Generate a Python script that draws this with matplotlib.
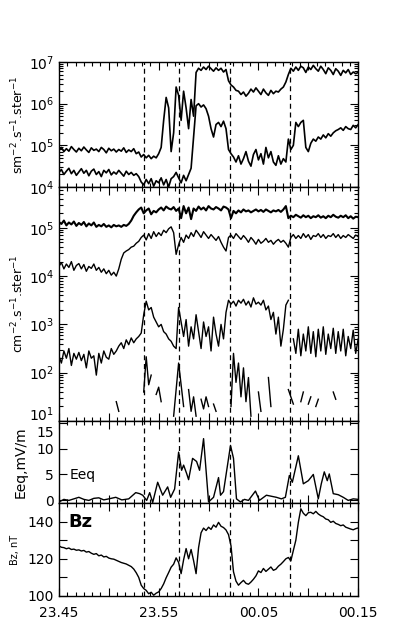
import numpy as np
import matplotlib.pyplot as plt
import matplotlib.transforms as mtransforms
from matplotlib.ticker import MultipleLocator, FixedLocator, FixedFormatter, LogLocator

nan = np.nan

# time grid in minutes after 23:45 (0.25 min steps)
t = np.arange(121) * 0.25

# top panel, log10 of flux
flux_a = [4.88, 4.95, 4.85, 4.92, 4.86, 4.97, 4.90, 4.84,
          4.93, 4.87, 4.96, 4.89, 4.83, 4.94, 4.88, 4.91,
          4.85, 4.95, 4.90, 4.82, 4.93, 4.87, 4.91, 4.84,
          4.90, 4.86, 4.94, 4.83, 4.89, 4.85, 4.92, 4.80,
          4.84, 4.72, 4.78, 4.70, 4.76, 4.68, 4.74, 4.70,
          4.80, 4.95, 5.60, 6.15, 5.90, 4.85, 5.30, 6.40,
          6.20, 5.60, 6.30, 5.90, 5.40, 6.10, 5.70, 6.75,
          6.85, 6.80, 6.88, 6.82, 6.90, 6.84, 6.78, 6.86,
          6.80, 6.85, 6.76, 6.82, 6.55, 6.45, 6.40, 6.32,
          6.30, 6.22, 6.28, 6.18, 6.25, 6.35, 6.28, 6.38,
          6.30, 6.22, 6.35, 6.26, 6.20, 6.32, 6.24, 6.30,
          6.28, 6.35, 6.40, 6.52, 6.70, 6.85, 6.78, 6.88,
          6.80, 6.90, 6.86, 6.75, 6.88, 6.82, 6.92, 6.84,
          6.78, 6.90, 6.82, 6.72, 6.86, 6.80, 6.70, 6.84,
          6.78, 6.68, 6.80, 6.74, 6.82, 6.70, 6.76, 6.72,
          6.75]
flux_b = [4.35, 4.42, 4.30, 4.38, 4.45, 4.32, 4.40, 4.28,
          4.36, 4.44, 4.33, 4.40, 4.27, 4.38, 4.43, 4.30,
          4.37, 4.25, 4.40, 4.34, 4.42, 4.29, 4.36, 4.31,
          4.40, 4.33, 4.26, 4.38, 4.30, 4.35, 4.28, 4.32,
          4.25, 4.12, 4.05, 4.18, 4.08, 4.20, 4.02, 4.15,
          4.10, 4.22, 4.05, 4.18, 4.00, 4.20, 4.25, 4.35,
          4.22, 4.10, 4.28, 4.15, 4.30, 4.45, 5.20, 5.95,
          6.00, 5.92, 5.97, 5.88, 5.70, 5.40, 5.20, 5.50,
          5.55, 5.45, 5.58, 5.40, 4.90, 4.80, 4.72, 4.60,
          4.75, 4.55, 4.68, 4.85, 4.62, 4.50, 4.78, 4.90,
          4.65, 4.80, 4.55, 4.95, 4.70, 4.85, 4.60, 4.52,
          4.75, 4.55, 4.68, 4.60, 5.15, 4.90, 5.00, 5.55,
          5.45, 5.55, 5.60, 4.95, 4.85, 5.05, 5.15, 5.10,
          5.20, 5.15, 5.25, 5.18, 5.28, 5.22, 5.30, 5.35,
          5.38, 5.42, 5.36, 5.45, 5.40, 5.38, 5.48, 5.42,
          5.50]

# second panel, log10 of flux (four channels)
flux_c = [5.12, 5.08, 5.15, 5.05, 5.11, 5.07, 5.13, 5.04,
          5.10, 5.06, 5.12, 5.03, 5.09, 5.05, 5.11, 5.02,
          5.06, 5.03, 5.08, 5.02, 5.05, 5.01, 5.06, 5.03,
          5.05, 5.02, 5.06, 5.04, 5.08, 5.15, 5.25, 5.32,
          5.38, 5.42, 5.30, 5.36, 5.40, 5.28, 5.35, 5.32,
          5.38, 5.42, 5.36, 5.44, 5.40, 5.38, 5.43, 5.35,
          5.40, 5.20, 5.45, 5.30, 5.42, 5.18, 5.40, 5.35,
          5.44, 5.38, 5.42, 5.36, 5.45, 5.40, 5.38, 5.43,
          5.40, 5.36, 5.44, 5.42, 5.38, 5.20, 5.35, 5.30,
          5.36, 5.32, 5.38, 5.34, 5.36, 5.32, 5.35, 5.38,
          5.34, 5.37, 5.33, 5.38, 5.35, 5.32, 5.36, 5.34,
          5.37, 5.33, 5.38, 5.45, 5.20, 5.25, 5.22, 5.27,
          5.24, 5.21, 5.26, 5.22, 5.25, 5.20, 5.24, 5.22,
          5.26, 5.21, 5.24, 5.20, 5.25, 5.22, 5.27, 5.23,
          5.21, 5.25, 5.22, 5.26, 5.20, 5.24, 5.19, 5.23,
          5.22]
flux_d = [4.20, 4.28, 4.15, 4.25, 4.18, 4.30, 4.12, 4.22,
          4.26, 4.15, 4.24, 4.10, 4.20, 4.16, 4.25, 4.12,
          4.18, 4.08, 4.15, 4.05, 4.12, 4.02, 4.08, 4.00,
          4.15, 4.35, 4.48, 4.52, 4.55, 4.60, 4.62, 4.68,
          4.72, 4.80, 4.85, 4.75, 4.88, 4.78, 4.92, 4.82,
          4.90, 4.84, 4.95, 4.90, 4.98, 5.02, 4.90, 4.45,
          4.65, 4.80, 4.70, 4.85, 4.78, 4.90, 4.82, 4.95,
          4.88, 4.80, 4.92, 4.85, 4.78, 4.86, 4.80, 4.74,
          4.82, 4.70, 4.60, 4.52, 4.80, 4.85, 4.78, 4.88,
          4.82, 4.76, 4.84, 4.78, 4.70, 4.80, 4.74, 4.66,
          4.76, 4.68, 4.72, 4.78, 4.70, 4.74, 4.66, 4.72,
          4.76, 4.70, 4.74, 4.68, 4.60, 4.80, 4.86, 4.78,
          4.84, 4.78, 4.88, 4.80, 4.86, 4.76, 4.84, 4.82,
          4.88, 4.80, 4.86, 4.78, 4.84, 4.82, 4.88, 4.80,
          4.86, 4.78, 4.84, 4.80, 4.86, 4.82, 4.78, 4.85,
          4.82]
flux_e = [2.35, 2.20, 2.45, 2.30, 2.50, 2.15, 2.40, 2.28,
          2.42, 2.25, 2.38, 2.10, 2.45, 2.30, 2.35, 1.95,
          2.40, 2.20, 2.45, 2.32, 2.28, 2.50, 2.38, 2.45,
          2.55, 2.62, 2.50, 2.68, 2.58, 2.72, 2.62, 2.70,
          2.75, 2.82, 3.20, 3.48, 3.30, 3.35, 3.15, 3.05,
          2.95, 3.00, 2.85, 2.80, 2.70, 2.65, 2.55, 2.50,
          3.35, 3.05, 2.75, 3.10, 2.55, 2.95, 2.70, 3.20,
          2.85, 2.50, 3.05, 2.75, 2.95, 2.45, 3.15, 2.80,
          2.55, 3.00, 2.70, 3.25, 3.50, 3.42, 3.48, 3.38,
          3.50, 3.44, 3.52, 3.40, 3.48, 3.36, 3.55, 3.42,
          3.46, 3.40, 3.50, 3.30, 3.38, 3.10, 3.25, 2.80,
          3.15, 2.55, 2.90, 3.40, 3.50, nan, 2.70, 2.40,
          2.90, 2.35, 2.80, 2.45, 2.95, 2.40, 2.85, 2.33,
          2.90, 2.45, 2.95, 2.38, 2.80, 2.50, 2.92, 2.40,
          2.85, 2.45, 2.90, 2.35, 2.75, 2.50, 2.88, 2.40,
          2.70]
flux_f = [nan, nan, nan, nan, nan, nan, nan, nan,
          nan, nan, nan, nan, nan, nan, nan, nan,
          nan, nan, nan, nan, nan, nan, nan, 1.40,
          1.20, nan, 1.25, nan, nan, nan, nan, nan,
          nan, nan, 1.60, 2.33, 1.75, 1.95, nan, 1.55,
          1.70, 1.40, nan, nan, nan, nan, 1.10, 1.65,
          2.20, 1.75, 1.30, nan, 1.65, 1.20, 1.50, 1.10,
          nan, 1.45, 1.25, 1.50, 1.30, nan, 1.35, 1.20,
          nan, nan, nan, nan, nan, 1.30, 2.40, 1.80,
          2.20, 1.50, 2.10, 1.40, 1.90, 1.10, nan, nan,
          1.60, 1.20, nan, nan, 1.90, 1.30, nan, nan,
          1.20, nan, nan, nan, 1.65, 1.50, 1.35, nan,
          nan, 1.40, 1.60, nan, 1.35, 1.50, nan, 1.30,
          1.45, nan, nan, nan, nan, nan, 1.60, 1.45,
          nan, nan, nan, nan, nan, nan, nan, nan,
          nan]

# electric field
eeq_t = [0.0, 0.5, 1.0, 1.5, 2.0, 2.5, 3.0, 3.5, 4.0, 4.5, 5.0, 5.7, 6.3, 7.0,
         7.7, 8.1, 8.4, 8.8, 9.1, 9.4, 9.9, 10.4, 10.9, 11.2, 11.6, 12.0, 12.3,
         12.5, 12.8, 13.0, 13.4, 13.8, 14.1, 14.5, 15.0, 15.5, 16.0, 16.2, 16.5,
         17.2, 17.5, 17.8, 18.2, 18.6, 19.0, 19.7, 20.1, 20.8, 21.3, 21.8, 22.3,
         22.7, 23.1, 23.4, 24.0, 24.5, 25.0, 25.5, 26.0, 26.3, 26.6, 26.9, 27.1,
         27.5, 28.0, 28.5, 29.0, 29.5, 30.0]
eeq = [-0.3, 0.2, 0.0, 0.3, 0.6, 0.2, 0.0, 0.4, 0.5, 0.1, 0.3, 0.6, 0.1, 0.3,
       1.5, 1.3, 1.0, 0.0, 1.5, -0.4, 3.5, 1.0, 2.6, 0.6, 2.2, 9.3, 5.8,
       6.8, 5.2, 4.0, 8.1, 7.5, 5.8, 11.9, -0.3, 0.6, 4.4, 1.0, 1.7,
       10.6, 8.1, 0.3, -0.3, 0.2, 0.0, 1.8, 0.0, 1.0, 0.8, 0.6, 0.3,
       0.6, 4.8, 3.5, 8.6, 3.2, 3.8, 5.0, 0.3, 3.2, 5.5, 3.8, 5.1,
       1.3, 1.1, 0.6, 0.0, 0.3, 0.2]

# magnetic field Bz, nT
bz = [127.0, 126.2, 126.0, 125.4, 125.8, 125.0, 125.2, 124.6,
      124.8, 124.2, 124.5, 123.6, 123.9, 123.0, 122.4, 122.8,
      121.6, 122.0, 121.0, 121.3, 120.4, 120.0, 119.8, 119.2,
      118.6, 118.0, 117.6, 117.2, 116.5, 115.8, 114.5, 112.5,
      110.0, 105.8, 104.0, 103.0, 101.2, 102.0, 100.4, 101.5,
      102.2, 104.0, 106.5, 109.8, 112.6, 115.5, 117.1, 120.5,
      118.0, 112.0, 119.5, 125.5, 120.0, 125.0, 119.0, 112.0,
      126.0, 134.0, 136.5, 135.2, 137.0, 135.8, 138.2, 137.0,
      139.6, 137.5, 136.8, 135.5, 133.0, 127.0, 113.0, 108.0,
      105.8, 107.2, 108.4, 106.8, 106.3, 107.5, 109.0, 110.8,
      113.5, 112.6, 114.8, 113.2, 114.4, 115.6, 113.8, 114.4,
      116.0, 117.1, 118.5, 120.0, 120.7, 118.9, 124.5, 130.0,
      139.6, 146.9, 144.5, 143.2, 144.8, 145.0, 144.2, 145.5,
      144.1, 143.2, 142.6, 141.4, 141.0, 139.6, 140.2, 139.0,
      138.5, 137.8, 138.2, 137.0, 136.5, 136.0, 135.6, 136.2,
      136.6]

event_times = [8.53, 12.07, 17.16, 23.18]
xtick_labels = ['23.45', '23.55', '00.05', '00.15']

plt.rcParams['font.family'] = 'DejaVu Sans'
plt.rcParams['font.size'] = 10

fig = plt.figure(figsize=(3.98, 6.29), dpi=100)
left, width = 0.148, 0.752
ax1 = fig.add_axes([left, 0.7027, width, 0.1987])
ax2 = fig.add_axes([left, 0.3307, width, 0.3720])
ax3 = fig.add_axes([left, 0.2003, width, 0.1304])
ax4 = fig.add_axes([left, 0.0525, width, 0.1478])
axes = [ax1, ax2, ax3, ax4]

lw = 1.0
ax1.plot(t, 10 ** np.array(flux_a), color='k', lw=1.2)
ax1.plot(t, 10 ** np.array(flux_b), color='k', lw=1.2)
ax1.set_yscale('log')
ax1.set_ylim(1e4, 1e7)

ax2.plot(t, 10 ** np.array(flux_c), color='k', lw=1.5)
for s in [flux_d, flux_e, flux_f]:
    ax2.plot(t, 10 ** np.array(s), color='k', lw=lw)
ax2.set_yscale('log')
ax2.set_ylim(10, 7e5)

ax3.plot(eeq_t, eeq, color='k', lw=lw)
ax3.set_ylim(-0.5, 15.3)
ax3.yaxis.set_major_locator(FixedLocator([0, 5, 10, 15]))
ax3.text(1.1, 4.8, 'Eeq', fontsize=10, va='center')

ax4.plot(t, bz, color='k', lw=lw)
ax4.set_ylim(100, 150)
ax4.yaxis.set_major_locator(FixedLocator([100, 110, 120, 130, 140]))
ax4.yaxis.set_major_formatter(FixedFormatter(['100', '', '120', '', '140']))
ax4.text(0.9, 140, 'Bz', fontsize=13, fontweight='bold', va='center')

for ax in [ax1, ax2]:
    ax.yaxis.set_major_locator(LogLocator(base=10, numticks=10))
    ax.yaxis.set_minor_locator(LogLocator(base=10, subs=np.arange(2, 10), numticks=20))

for ax in axes:
    ax.set_xlim(0, 30)
    ax.xaxis.set_major_locator(MultipleLocator(5))
    ax.xaxis.set_minor_locator(MultipleLocator(5 / 6))
    ax.tick_params(which='both', direction='in', top=True, right=True, width=0.8)
    ax.tick_params(which='major', length=6)
    ax.tick_params(which='minor', length=3)
    ax.tick_params(axis='x', labelbottom=False)
    for sp in ax.spines.values():
        sp.set_linewidth(1.0)
    for et in event_times:
        ax.axvline(et, color='k', lw=0.9, ls=(0, (4, 3)))

ax4.set_xticks([0, 5, 10, 15, 20, 25, 30])
ax4.set_xticklabels([xtick_labels[0], '', xtick_labels[1], '', xtick_labels[2], '', xtick_labels[3]])
ax4.tick_params(axis='x', labelbottom=True, pad=7)

ax1.set_ylabel('sm$^{-2}$.s$^{-1}$.ster$^{-1}$', fontsize=9)
ax1.yaxis.set_label_coords(-0.11, 0.5)
ax2.set_ylabel('cm$^{-2}$.s$^{-1}$.ster$^{-1}$', fontsize=9)
ax2.yaxis.set_label_coords(-0.11, 0.5)
ax3.set_ylabel('Eeq,mV/m', fontsize=10)
ax3.yaxis.set_label_coords(-0.104, 0.5)
ax4.set_ylabel('Bz, nT', fontsize=7)
ax4.yaxis.set_label_coords(-0.13, 0.5)

# nudge the edge labels apart where the panels meet
fig.canvas.draw()
for tick in ax3.yaxis.get_major_ticks():
    if tick.get_loc() == 15:
        lab = tick.label1
        lab.set_transform(lab.get_transform() + mtransforms.ScaledTranslation(0, -0.09, fig.dpi_scale_trans))
for tick in ax2.yaxis.get_major_ticks():
    if abs(tick.get_loc() - 10) < 1e-6:
        lab = tick.label1
        lab.set_transform(lab.get_transform() + mtransforms.ScaledTranslation(0, 0.08, fig.dpi_scale_trans))

fig.savefig('out.png', dpi=100)
